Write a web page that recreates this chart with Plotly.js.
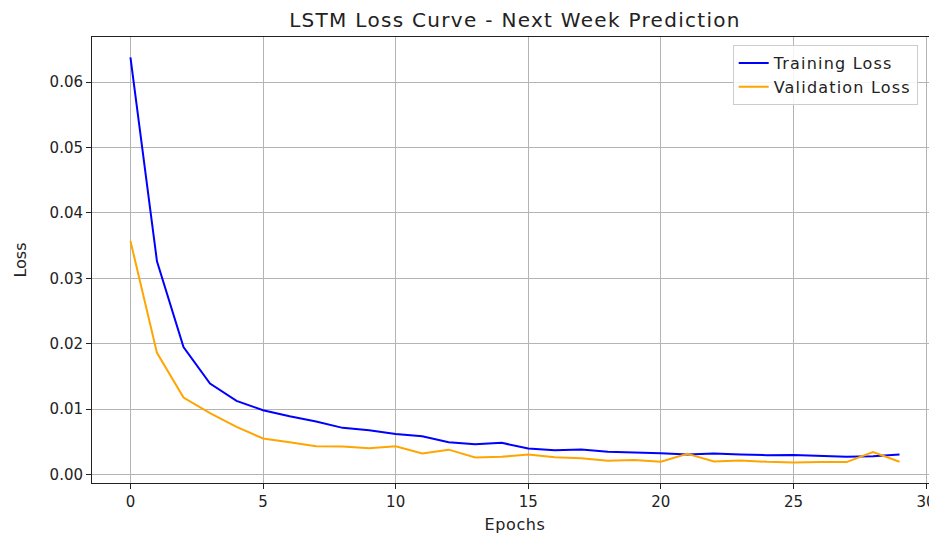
<!DOCTYPE html>
<html>
<head>
<meta charset="utf-8">
<script src="https://cdn.plot.ly/plotly-3.0.1.min.js"></script>
<style>
  html, body { margin: 0; padding: 0; overflow: hidden; background: #fff; }
  #chart { width: 950px; height: 534px; }
  /* slightly wider tracking for the title and legend labels */
  .gtitle { letter-spacing: 1.3px; }
  .legendtext { letter-spacing: 1.2px; }
  .xtitle { letter-spacing: 0.6px; }
</style>
</head>
<body>
<div id="chart"></div>
<script>
// Per-epoch loss values for the LSTM next-week model
const epochs = [0,1,2,3,4,5,6,7,8,9,10,11,12,13,14,15,16,17,18,19,20,21,22,23,24,25,26,27,28,29];

const trainingLoss = [
  0.0638, 0.0326, 0.0195, 0.0139, 0.01125, 0.00983, 0.0089, 0.0081, 0.00713, 0.00677,
  0.0062, 0.00586, 0.00494, 0.00464, 0.00484, 0.00397, 0.00372, 0.00382, 0.00347, 0.00342,
  0.00326, 0.00305, 0.0032, 0.00305, 0.00296, 0.0030, 0.00285, 0.0027, 0.0028, 0.00305
];

const validationLoss = [
  0.0357, 0.0186, 0.01176, 0.00937, 0.00728, 0.0055, 0.00494, 0.00433, 0.00428, 0.00403,
  0.00433, 0.0032, 0.0038, 0.0026, 0.0027, 0.00305, 0.00265, 0.0025, 0.0021, 0.0022,
  0.00194, 0.00316, 0.0020, 0.00214, 0.00194, 0.00183, 0.0019, 0.0019, 0.00342, 0.00194
];

const xTicks = [0, 5, 10, 15, 20, 25, 30];
const yTicks = [0.00, 0.01, 0.02, 0.03, 0.04, 0.05, 0.06];

const FONT = 'DejaVu Sans, sans-serif';

const traces = [
  {
    x: epochs, y: trainingLoss, name: 'Training Loss',
    type: 'scatter', mode: 'lines',
    line: { color: '#0000ff', width: 2 }
  },
  {
    x: epochs, y: validationLoss, name: 'Validation Loss',
    type: 'scatter', mode: 'lines',
    line: { color: '#ffa500', width: 2 }
  }
];

const axisCommon = {
  showline: true, linecolor: '#222', linewidth: 1, mirror: true,
  ticks: 'outside', ticklen: 5, tickwidth: 1, tickcolor: '#222',
  showgrid: true, gridcolor: '#b4b4b4', gridwidth: 1,
  zeroline: false,
  tickfont: { family: FONT, size: 15, color: '#222' }
};

const layout = {
  width: 950, height: 534,
  margin: { l: 92, r: 12, t: 37, b: 51 },
  paper_bgcolor: '#fff', plot_bgcolor: '#fff',
  title: {
    text: 'LSTM Loss Curve - Next Week Prediction',
    font: { family: FONT, size: 20, color: '#222' },
    x: 0.5, xref: 'paper', xanchor: 'center',
    y: 0.962, yref: 'container', yanchor: 'middle'
  },
  xaxis: Object.assign({}, axisCommon, {
    range: [-1.45, 30.45],
    tickmode: 'array', tickvals: xTicks, ticktext: xTicks.map(String),
    title: { text: 'Epochs', font: { family: FONT, size: 16, color: '#222' }, standoff: 12 }
  }),
  yaxis: Object.assign({}, axisCommon, {
    range: [-0.0013, 0.0669],
    tickmode: 'array', tickvals: yTicks, ticktext: yTicks.map(v => v.toFixed(2)),
    title: { text: 'Loss', font: { family: FONT, size: 16, color: '#222' }, standoff: 18 }
  }),
  showlegend: true,
  legend: {
    x: 0.976, y: 0.982, xanchor: 'right', yanchor: 'top',
    bgcolor: 'rgba(255,255,255,0.85)', bordercolor: '#cccccc', borderwidth: 1,
    font: { family: FONT, size: 16, color: '#222' },
    tracegroupgap: 0
  }
};

Plotly.newPlot('chart', traces, layout, { displayModeBar: false, staticPlot: true });
</script>
</body>
</html>
